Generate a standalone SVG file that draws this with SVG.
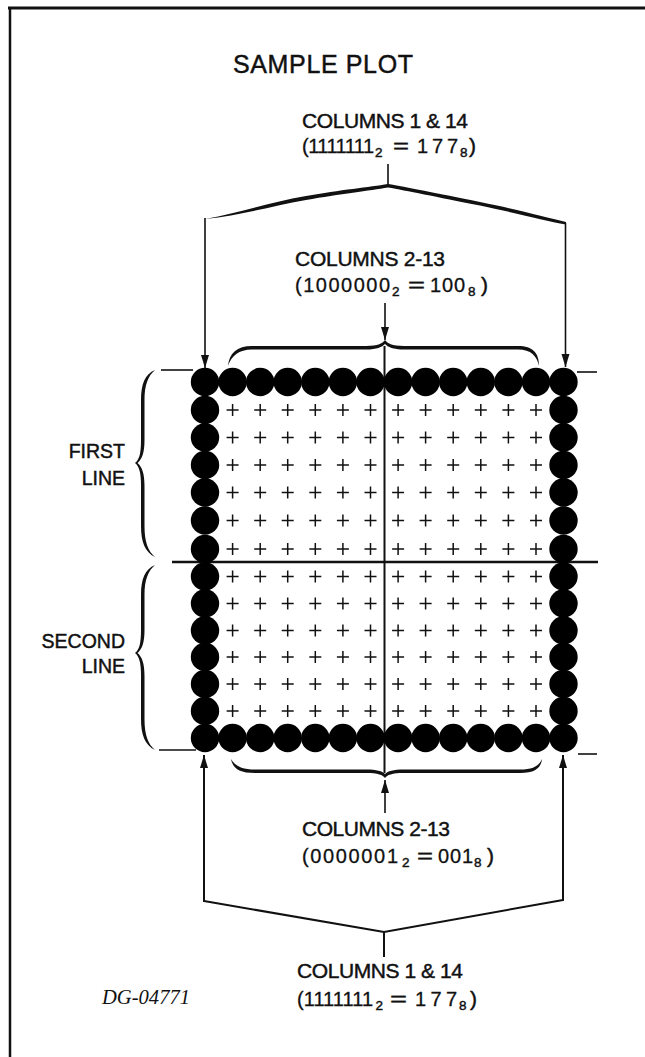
<svg xmlns="http://www.w3.org/2000/svg" xmlns:xlink="http://www.w3.org/1999/xlink" width="645" height="1057" viewBox="0 0 645 1057">
<style>
.t{font-family:"Liberation Sans",Arial,sans-serif;fill:#111;stroke:#111;stroke-width:0.45;}
.lbl{font-size:21px;}
.dg{font-size:20px;stroke-width:0.3;}
.sub{font-size:13.5px;}
.side{font-size:19.5px;text-anchor:end;}
.ln{stroke:#111;fill:none;stroke-width:2;}
.thin{stroke:#111;fill:none;stroke-width:1.6;}
.br{fill:#111;stroke:none;}
</style>
<defs>
<marker id="ah" markerUnits="userSpaceOnUse" markerWidth="14" markerHeight="10" refX="13" refY="4" orient="auto">
<path d="M0,0 L13,4 L0,8 Z" fill="#111"/>
</marker>
<g id="dotrow" fill="#000">
<circle cx="205" cy="0" r="14.2"/><circle cx="232.6" cy="0" r="14.2"/><circle cx="260.2" cy="0" r="14.2"/><circle cx="287.7" cy="0" r="14.2"/><circle cx="315.3" cy="0" r="14.2"/><circle cx="342.9" cy="0" r="14.2"/><circle cx="370.5" cy="0" r="14.2"/><circle cx="398.1" cy="0" r="14.2"/><circle cx="425.6" cy="0" r="14.2"/><circle cx="453.2" cy="0" r="14.2"/><circle cx="480.8" cy="0" r="14.2"/><circle cx="508.4" cy="0" r="14.2"/><circle cx="536" cy="0" r="14.2"/><circle cx="563.5" cy="0" r="14.2"/>
</g>
<g id="dotcol" fill="#000">
<circle cx="0" cy="410" r="14.2"/><circle cx="0" cy="437.5" r="14.2"/><circle cx="0" cy="465" r="14.2"/><circle cx="0" cy="492.5" r="14.2"/><circle cx="0" cy="520.5" r="14.2"/><circle cx="0" cy="549" r="14.2"/><circle cx="0" cy="576.5" r="14.2"/><circle cx="0" cy="603.5" r="14.2"/><circle cx="0" cy="630.5" r="14.2"/><circle cx="0" cy="657" r="14.2"/><circle cx="0" cy="684" r="14.2"/><circle cx="0" cy="711" r="14.2"/>
</g>
<path id="prow" fill="none" stroke="#111" stroke-width="1.5" d="M226.6,0h12M232.6,-6v12M254.2,0h12M260.2,-6v12M281.7,0h12M287.7,-6v12M309.3,0h12M315.3,-6v12M336.9,0h12M342.9,-6v12M364.5,0h12M370.5,-6v12M392.1,0h12M398.1,-6v12M419.6,0h12M425.6,-6v12M447.2,0h12M453.2,-6v12M474.8,0h12M480.8,-6v12M502.4,0h12M508.4,-6v12M530,0h12M536,-6v12"/>
</defs>

<rect width="645" height="1057" fill="#fff"/>

<g id="frame">
<line x1="8" y1="8" x2="645" y2="8" stroke="#111" stroke-width="3"/>
<line x1="10" y1="7" x2="10" y2="1057" stroke="#111" stroke-width="2.5"/>
</g>

<g id="title"><text class="t" x="233" y="73" font-size="25" textLength="180" lengthAdjust="spacing">SAMPLE PLOT</text></g>

<g id="grid">
<use xlink:href="#prow" y="410"/><use xlink:href="#prow" y="437.5"/><use xlink:href="#prow" y="465"/><use xlink:href="#prow" y="492.5"/><use xlink:href="#prow" y="520.5"/><use xlink:href="#prow" y="549"/>
<use xlink:href="#prow" y="576.5"/><use xlink:href="#prow" y="603.5"/><use xlink:href="#prow" y="630.5"/><use xlink:href="#prow" y="657"/><use xlink:href="#prow" y="684"/><use xlink:href="#prow" y="711"/>
<line x1="384.5" y1="346" x2="384.5" y2="773" stroke="#111" stroke-width="2"/>
<line x1="172" y1="562" x2="598" y2="562" stroke="#111" stroke-width="2.5"/>
<use xlink:href="#dotrow" y="382"/>
<use xlink:href="#dotrow" y="738"/>
<use xlink:href="#dotcol" x="205"/>
<use xlink:href="#dotcol" x="563.5"/>
<line class="thin" x1="161" y1="370" x2="193" y2="370"/>
<line class="thin" x1="577" y1="372" x2="597" y2="372"/>
<line class="thin" x1="159" y1="750" x2="196" y2="750"/>
<line class="thin" x1="578" y1="754" x2="597" y2="754"/>
</g>

<g id="first-line">
<path class="br" d="M155,370 C145,374 141,384 141,400 L141,440 C141,454 139,460 135,463 C139,466 141,472 141,486 L141,526 C141,542 145,552 155,557 C148,551 144.5,542 144.5,526 L144.5,486 C144.5,473 142,467 137.5,463 C142,459 144.5,453 144.5,440 L144.5,400 C144.5,385 148,376 155,370 Z"/>
<text class="t side" x="125" y="458">FIRST</text>
<text class="t side" x="125" y="485">LINE</text>
</g>
<g id="second-line">
<path class="br" d="M155,565 C145,569 141,579 141,595 L141,630 C141,644 139,650 135,653 C139,656 141,662 141,676 L141,719 C141,735 145,745 155,750 C148,744 144.5,735 144.5,719 L144.5,676 C144.5,663 142,657 137.5,653 C142,649 144.5,643 144.5,630 L144.5,595 C144.5,580 148,571 155,565 Z"/>
<text class="t side" x="125" y="648">SECOND</text>
<text class="t side" x="125" y="673">LINE</text>
</g>

<g id="top-cols-1-14">
<text class="t lbl" x="302" y="128" textLength="166" lengthAdjust="spacing">COLUMNS 1 &amp; 14</text>
<text class="t dg" x="302" y="153" textLength="72" lengthAdjust="spacing">(1111111</text>
<text class="t sub" x="375" y="157">2</text>
<text class="t lbl" x="393" y="153" textLength="16" lengthAdjust="spacingAndGlyphs">=</text>
<text class="t dg" x="417" y="153" textLength="41" lengthAdjust="spacing">177</text>
<text class="t sub" x="460" y="157">8</text>
<text class="t lbl" x="469" y="153">)</text>
</g>

<g id="top-cols-2-13">
<text class="t lbl" x="295" y="266" textLength="150" lengthAdjust="spacing">COLUMNS 2-13</text>
<text class="t dg" x="295" y="292" textLength="95" lengthAdjust="spacing">(1000000</text>
<text class="t sub" x="392" y="296">2</text>
<text class="t lbl" x="408" y="292" textLength="17" lengthAdjust="spacingAndGlyphs">=</text>
<text class="t dg" x="430" y="292" textLength="35" lengthAdjust="spacing">100</text>
<text class="t sub" x="468" y="296">8</text>
<text class="t lbl" x="481" y="292">)</text>
</g>

<g id="bottom-cols-2-13">
<text class="t lbl" x="302" y="836" textLength="148" lengthAdjust="spacing">COLUMNS 2-13</text>
<text class="t dg" x="302" y="863" textLength="96" lengthAdjust="spacing">(0000001</text>
<text class="t sub" x="402" y="867">2</text>
<text class="t lbl" x="417" y="863" textLength="16" lengthAdjust="spacingAndGlyphs">=</text>
<text class="t dg" x="438" y="863" textLength="35" lengthAdjust="spacing">001</text>
<text class="t sub" x="474" y="867">8</text>
<text class="t lbl" x="487" y="863">)</text>
</g>

<g id="bottom-cols-1-14">
<text class="t lbl" x="297" y="978" textLength="166" lengthAdjust="spacing">COLUMNS 1 &amp; 14</text>
<text class="t dg" x="297" y="1006" textLength="76" lengthAdjust="spacing">(1111111</text>
<text class="t sub" x="375.5" y="1010">2</text>
<text class="t lbl" x="390" y="1006" textLength="17" lengthAdjust="spacingAndGlyphs">=</text>
<text class="t dg" x="415" y="1006" textLength="42" lengthAdjust="spacing">177</text>
<text class="t sub" x="459" y="1010">8</text>
<text class="t lbl" x="470" y="1006">)</text>
</g>

<g id="doc-number">
<text x="102" y="1004" font-family="'Liberation Serif','Times New Roman',serif" font-style="italic" font-size="21" fill="#111" textLength="88" lengthAdjust="spacingAndGlyphs">DG-04771</text>
</g>

<g id="connectors">
<line class="thin" x1="388" y1="164" x2="388" y2="186"/>
<path class="br" d="M205,219 C240,213 270,202 306,196 C340,190 370,187 388,184 C406,187 436,193 480,202 C520,210 545,217 566,222 L566,224.5 C545,220.5 520,214 480,205.5 C436,197 406,190.5 388,187.5 C370,190.5 340,194 306,200 C270,206.5 240,215.5 205,219 Z"/>
<line class="thin" x1="205" y1="218" x2="205" y2="368" marker-end="url(#ah)"/>
<line class="thin" x1="565.5" y1="223" x2="565.5" y2="367" marker-end="url(#ah)"/>
<line class="thin" x1="385" y1="303" x2="385" y2="340" marker-end="url(#ah)"/>
<path class="br" d="M228,366 C229,353 237,346 252,346 L366,346 C378,346 383,343 385,340 C387,343 392,346 404,346 L518,346 C533,346 539,353 539,366 C537,356 531,349.5 518,349.5 L404,349.5 C393,349.5 388,347 385,344 C382,347 377,349.5 366,349.5 L252,349.5 C239,349.5 231,356 228,366 Z"/>
<path class="br" d="M231,759 C233,769 240,773 255,773 L366,773 C378,773 383,775 385,778 C387,775 392,773 404,773 L520,773 C535,773 541,768 542,759 C539,766 533,769.5 520,769.5 L404,769.5 C393,769.5 388,771 385,774 C382,771 377,769.5 366,769.5 L255,769.5 C242,769.5 235,766 231,759 Z"/>
<line class="thin" x1="385" y1="813" x2="385" y2="780" marker-end="url(#ah)"/>
<polyline class="ln" points="204,901 384,932 563,900"/>
<line class="ln" x1="204" y1="902" x2="204" y2="755" marker-end="url(#ah)"/>
<line class="ln" x1="563" y1="901" x2="563" y2="755" marker-end="url(#ah)"/>
<line class="ln" x1="384" y1="932" x2="384" y2="957"/>
</g>
</svg>
